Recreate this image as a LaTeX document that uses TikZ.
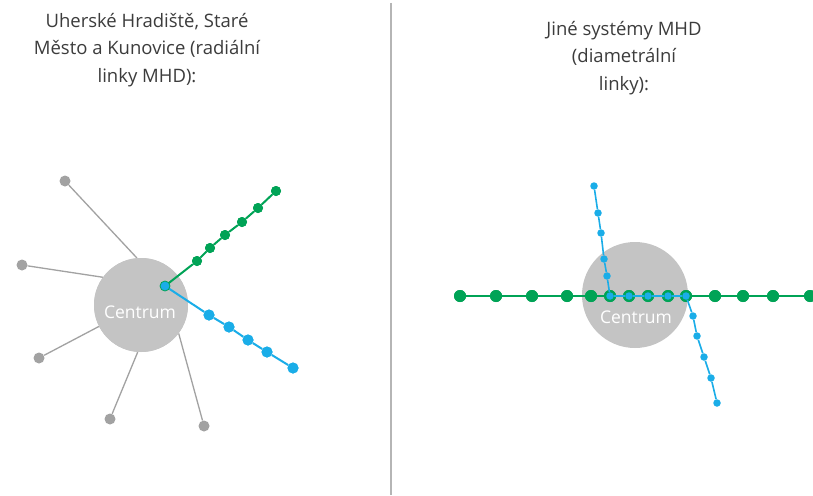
\documentclass[tikz,border=0pt]{standalone}
\usepackage{fontspec}
\setmainfont{Open Sans}
\definecolor{mhdgreen}{HTML}{00A356}
\definecolor{mhdblue}{HTML}{1AADE8}
\definecolor{centgray}{HTML}{C4C4C4}
\definecolor{linegray}{HTML}{A2A2A2}
\definecolor{txtgray}{HTML}{3C3C3C}
\tikzset{
  centre/.style={circle,fill=centgray,inner sep=0pt},
  centretext/.style={text=white,font=\fontsize{17.5}{17.5}\selectfont},
  gdot/.style={circle,fill=mhdgreen,inner sep=0pt,minimum size=#1},
  bdot/.style={circle,fill=mhdblue,inner sep=0pt,minimum size=#1},
  graydot/.style={circle,fill=linegray,inner sep=0pt,minimum size=11pt},
  gline/.style={draw=mhdgreen,line width=2pt},
  bline/.style={draw=mhdblue,line width=2pt},
  grayline/.style={draw=linegray,line width=1.3pt},
  title/.style={align=center,text=txtgray,font=\fontsize{18.5}{27.5}\selectfont}
}
\begin{document}
\begin{tikzpicture}[x=1pt,y=-1pt]
\useasboundingbox[fill=white] (0,0) rectangle (813,495);
% divider
\draw[draw=linegray!80,line width=2pt] (391,3) coordinate (d1) -- (391,495) coordinate (d2);
% titles
\node[title] (t1) at (147,50) {Uherské Hradiště, Staré\\Město a Kunovice (radiální\\linky MHD):};
\node[title] (t2) at (624,58) {Jiné systémy MHD\\(diametrální\\linky):};
% ---- left panel ----
\node[centre,minimum size=94pt] (c1) at (141,305) {};
\node[graydot] (g1) at (65,181) {};
\node[graydot] (g2) at (22,265) {};
\node[graydot] (g3) at (39,358) {};
\node[graydot] (g4) at (110,419) {};
\node[graydot] (g5) at (204,426) {};
\draw[grayline] (g1) -- (c1.95);
\draw[grayline] (g2) -- (c1.144);
\draw[grayline] (g3) -- (c1.207);
\draw[grayline] (g4) -- (c1.266);
\draw[grayline] (g5) -- (c1.323);
\node[centre,minimum size=94pt] (c1b) at (141,305) {};
\node[centretext] (lc1) at (140,312) {Centrum};
% green radial line
\coordinate (h) at (165,286);
\foreach \n/\x/\y in {1/197/261,2/210/248,3/225/235,4/242/222,5/258/208,6/276/191}
  \node[gdot=10pt] (lg\n) at (\x,\y) {};
\draw[gline] (h) -- (lg1) -- (lg2) -- (lg3) -- (lg4) -- (lg5) -- (lg6);
\foreach \n/\x/\y in {1/209/315,2/229/327,3/248/340,4/267/352,5/293/368}
  \node[bdot=11pt] (lb\n) at (\x,\y) {};
\draw[bline] (h) -- (lb1) -- (lb2) -- (lb3) -- (lb4) -- (lb5);
\foreach \n in {1,...,6}
  \node[gdot=10pt] at (lg\n) {};
\foreach \n in {1,...,5}
  \node[bdot=11pt] at (lb\n) {};
\node[bdot=10pt,draw=mhdgreen,line width=0.8pt] (hub) at (h) {};
% ---- right panel ----
\node[centre,minimum size=106pt] (c2) at (635,295) {};
\node[centretext] (lc2) at (636,317) {Centrum};
\foreach \n/\x in {1/460,2/496,3/532,4/567,5/591,6/610,7/629,8/648,9/668,10/686,11/715,12/743,13/773,14/810}
  \node[gdot=12pt] (rg\n) at (\x,296) {};
\coordinate (rgend) at (820,296);
\draw[gline] (rg1) -- (rg14) -- (rgend);
\foreach \n in {1,...,14}
  \node[gdot=12pt] at (rg\n) {};
\foreach \n/\x/\y in {1/594/186,2/598/213,3/601/233,4/604/259,5/607/276,6/610/296,7/629/296,8/648/296,9/668/296,10/686/296,11/693/316,12/697/336,13/704/357,14/711/378,15/717/403}
  \node[bdot=7.5pt] (rb\n) at (\x,\y) {};
\draw[bline,line width=1.6pt] (rb1) -- (rb2) -- (rb3) -- (rb4) -- (rb5) -- (rb6) -- (rb7) -- (rb8) -- (rb9) -- (rb10) -- (rb11) -- (rb12) -- (rb13) -- (rb14) -- (rb15);
\end{tikzpicture}
\end{document}
